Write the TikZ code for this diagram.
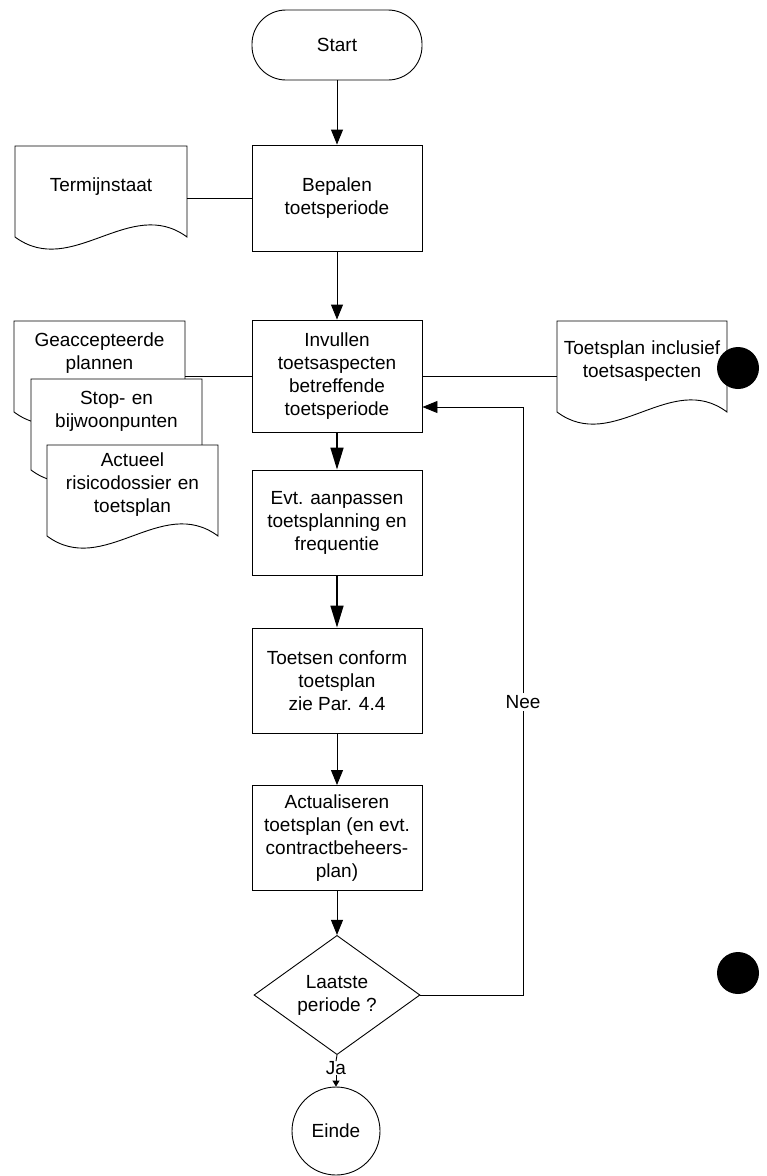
\documentclass[tikz,border=0pt]{standalone}
\usepackage{fontspec}
\setmainfont{Liberation Sans}
\usetikzlibrary{arrows.meta,shapes.geometric,calc}
\newcommand\docshape[3]{%
  \draw[docline] (#1,#2) -- (#1,#2+91)
    .. controls (#1+0.33*#3,#2+133) and (#1+0.67*#3,#2+49) .. (#1+#3,#2+91)
    -- (#1+#3,#2) -- cycle;}
\begin{document}
\begin{tikzpicture}[x=1pt,y=-1pt,
  every node/.style={font=\fontsize{19}{23}\selectfont, inner sep=0pt, align=center},
  procbox/.style={draw, line width=0.9pt, minimum width=170pt},
  termbox/.style={draw, line width=0.9pt, rounded corners=34pt, minimum width=170pt, minimum height=70pt},
  doctext/.style={text width=171pt},
  docline/.style={draw, fill=white, line width=0.9pt},
  flow/.style={line width=0.9pt, -{Triangle[length=15pt,width=12pt]}},
  bigflow/.style={line width=1.6pt, -{Triangle[length=22pt,width=13pt]}},
  smallflow/.style={line width=0.9pt, -{Triangle[length=6pt,width=7pt]}},
  link/.style={line width=0.9pt},
  lbl/.style={fill=white, inner sep=2pt}]
\useasboundingbox (0,0) rectangle (767,1176);

% documents on the left and right
\docshape{15}{146}{172}
\node[doctext] (term) at (101,187) {Termijnstaat};
\docshape{14}{321}{171}
\node[doctext] (gea) at (99.5,353) {Geaccepteerde\\plannen};
\docshape{31}{379}{171}
\node[doctext] (stop) at (116.5,411) {Stop- en\\bijwoonpunten};
\docshape{47}{445}{171}
\node[doctext] (act) at (132.5,485) {Actueel\\risicodossier en\\toetsplan};
\docshape{557}{321}{170}
\node[text width=170pt] (tp) at (642,361) {Toetsplan inclusief\\toetsaspecten};

% main column
\node[termbox] (start) at (337,45) {Start};
\node[procbox, minimum height=106pt] (bep) at (337,198) {Bepalen\\toetsperiode};
\node[procbox, minimum height=112pt] (inv) at (337,376) {Invullen\\toetsaspecten\\betreffende\\toetsperiode};
\node[procbox, minimum height=105pt] (evt) at (337,522.5) {Evt. aanpassen\\toetsplanning en\\frequentie};
\node[procbox, minimum height=105pt] (toe) at (337,680.5) {Toetsen conform\\toetsplan\\zie Par. 4.4};
\node[procbox, minimum height=105pt] (actu) at (337,838) {Actualiseren\\toetsplan (en evt.\\contractbeheers-\\plan)};
\node[draw, diamond, line width=0.9pt, minimum width=166pt, minimum height=104pt] (dia) at (337,995) {Laatste\\periode ?};
\node[draw, circle, line width=0.9pt, minimum size=88pt] (einde) at (336,1131) {Einde};
\node (ja) at (336,1068) {Ja};
\node[lbl] (nee) at (523,702) {Nee};

% connectors
\draw[flow] (start) -- (bep);
\draw[flow] (bep) -- (inv);
\draw[bigflow] (inv) -- (evt);
\draw[bigflow] (evt) -- (toe);
\draw[flow] (toe) -- (actu);
\draw[flow] (actu) -- (dia);
\draw[link] (dia.south) -- (ja.north);
\draw[smallflow] (ja.south) -- (einde.north);
\draw[link] (dia.east) -| (nee.south);
\draw[flow] (nee.north) |- ([yshift=-31pt]inv.east);
\draw[link] (term.east |- bep.west) -- (bep.west);
\draw[link] (gea.east |- inv.west) -- (inv.west);
\draw[link] (inv.east) -- (tp.west |- inv.east);

% black punch-hole marks
\fill (738,368) circle (21);
\fill (738,973) circle (21);
\end{tikzpicture}
\end{document}
